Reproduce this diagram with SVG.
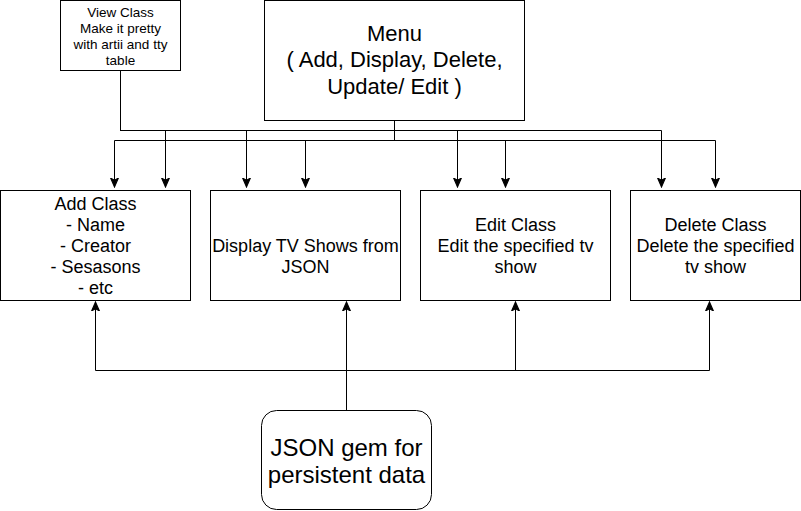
<svg xmlns="http://www.w3.org/2000/svg" width="801" height="511" viewBox="0 0 801 511">
<style>
.box{fill:#ffffff;stroke:#000000;stroke-width:1}
.edge{fill:none;stroke:#000000;stroke-width:1;marker-end:url(#arrow)}
text{font-family:"Liberation Sans",Arial,Helvetica,sans-serif;fill:#000000;text-anchor:middle}
.s14{font-size:13.5px}
.s18{font-size:18px}
.s22{font-size:22px}
.s24{font-size:24px}
</style>
<defs>
<marker id="arrow" markerUnits="userSpaceOnUse" markerWidth="10" markerHeight="10" viewBox="0 0 9 8" refX="8.5" refY="4" orient="auto">
<path d="M0.5,0.5 L8.5,4 L0.5,7.5 L2.5,4 Z" fill="#000000" stroke="#000000" stroke-width="1" stroke-linejoin="miter"/>
</marker>
</defs>
<rect width="801" height="511" fill="#ffffff"/>
<g id="connectors">
<path class="edge" d="M120.5,70 V130.5 H165.5 V187"/>
<path class="edge" d="M120.5,70 V130.5 H246.5 V187"/>
<path class="edge" d="M120.5,70 V130.5 H457.5 V187"/>
<path class="edge" d="M120.5,70 V130.5 H661.5 V187"/>
<path class="edge" d="M394.5,120 V140.5 H114.5 V187"/>
<path class="edge" d="M394.5,120 V140.5 H305.5 V187"/>
<path class="edge" d="M394.5,120 V140.5 H505.5 V187"/>
<path class="edge" d="M394.5,120 V140.5 H715.5 V187"/>
<path class="edge" d="M346.5,410 V302"/>
<path class="edge" d="M346.5,410 V370.5 H95.5 V302"/>
<path class="edge" d="M346.5,410 V370.5 H515.5 V302"/>
<path class="edge" d="M346.5,410 V370.5 H709.5 V302"/>
</g>
<g id="view-class">
<rect class="box" x="60.5" y="0.5" width="120" height="70"/>
<text class="s14" x="120.5" y="16.5">View Class</text>
<text class="s14" x="120.5" y="32.5">Make it pretty</text>
<text class="s14" x="120.5" y="48.5">with artii and tty</text>
<text class="s14" x="120.5" y="64.5">table</text>
</g>
<g id="menu">
<rect class="box" x="264.5" y="0.5" width="260" height="120"/>
<text class="s22" x="394.5" y="40.5">Menu</text>
<text class="s22" x="394.5" y="67">( Add, Display, Delete,</text>
<text class="s22" x="394.5" y="93.5">Update/ Edit )</text>
</g>
<g id="add-class">
<rect class="box" x="0.5" y="190.5" width="190" height="110"/>
<text class="s18" x="95.5" y="209.5">Add Class</text>
<text class="s18" x="95.5" y="230.5">- Name</text>
<text class="s18" x="95.5" y="251.5">- Creator</text>
<text class="s18" x="95.5" y="272.5">- Sesasons</text>
<text class="s18" x="95.5" y="293.5">- etc</text>
</g>
<g id="display">
<rect class="box" x="210.5" y="190.5" width="190" height="110"/>
<text class="s18" x="305.5" y="251.5">Display TV Shows from</text>
<text class="s18" x="305.5" y="272.5">JSON</text>
</g>
<g id="edit-class">
<rect class="box" x="420.5" y="190.5" width="190" height="110"/>
<text class="s18" x="515.5" y="230.5">Edit Class</text>
<text class="s18" x="515.5" y="251.5">Edit the specified tv</text>
<text class="s18" x="515.5" y="272.5">show</text>
</g>
<g id="delete-class">
<rect class="box" x="630.5" y="190.5" width="170" height="110"/>
<text class="s18" x="715.5" y="230.5">Delete Class</text>
<text class="s18" x="715.5" y="251.5">Delete the specified</text>
<text class="s18" x="715.5" y="272.5">tv show</text>
</g>
<g id="json-gem">
<rect class="box" x="261.5" y="410.5" width="170" height="99" rx="15" ry="15"/>
<text class="s24" x="346.5" y="456">JSON gem for</text>
<text class="s24" x="346.5" y="483">persistent data</text>
</g>
</svg>
